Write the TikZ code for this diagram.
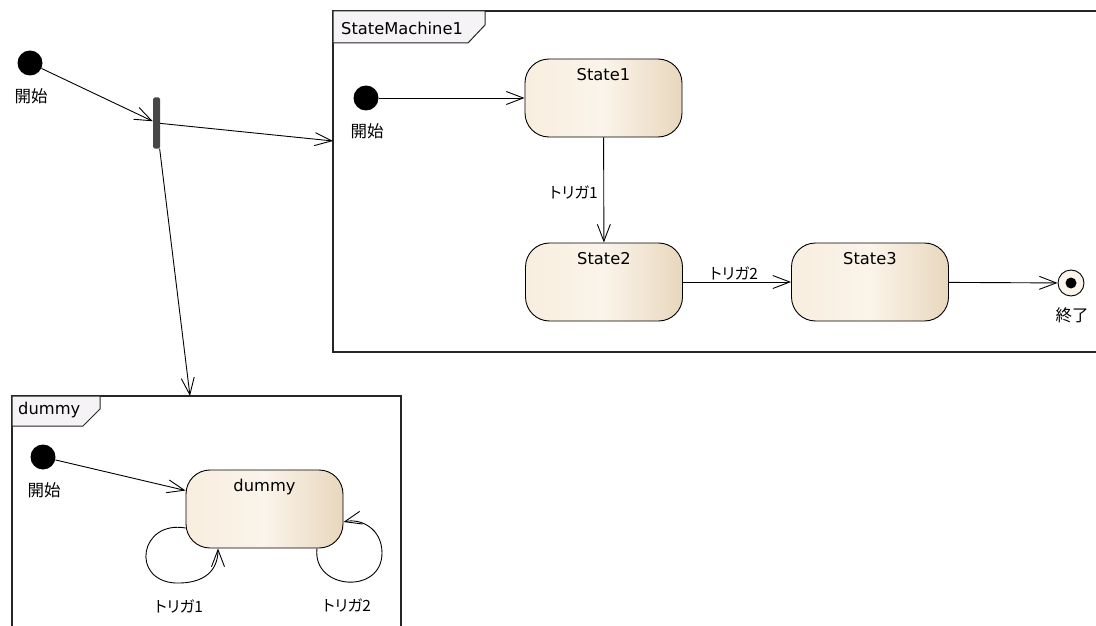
\documentclass[tikz,border=0pt]{standalone}
\usepackage{fontspec}
\setmainfont{DejaVu Sans}
\newfontfamily\jp[RawFeature=+palt]{Noto Sans CJK JP}
\usepackage{tikz}
\usetikzlibrary{arrows.meta}

\definecolor{stL}{HTML}{F8EEDF}
\definecolor{stM}{HTML}{FBF4EA}
\definecolor{stR}{HTML}{E8D7BD}
\definecolor{tabbg}{HTML}{F6F3F6}
\definecolor{framec}{HTML}{262626}
\definecolor{barc}{HTML}{474747}

\tikzset{
  state/.style={draw, line width=0.9pt, rounded corners=24pt,
    minimum width=157pt, minimum height=78pt,
    left color=stL, right color=stR, middle color=stM,
    label={[anchor=north, yshift=-6pt, font=\fontsize{16.3}{18}\selectfont]north:#1}},
  init/.style={circle, fill=black, minimum size=25pt, inner sep=0pt},
  fin/.style={circle, draw, line width=0.9pt, fill=stM, minimum size=26pt, inner sep=0pt,
    path picture={\fill[black] (path picture bounding box.center) circle (5.5pt);}},
  forkbar/.style={rectangle, fill=barc, rounded corners=1.5pt,
    minimum width=7pt, minimum height=51pt, inner sep=0pt},
  jptxt/.style={font=\jp\fontsize{16.5}{18}\selectfont, inner sep=0pt},
  trig/.style={font=\jp\fontsize{15.5}{17}\selectfont, inner sep=0pt},
  tabtxt/.style={font=\fontsize{16.3}{18}\selectfont, inner sep=0pt, anchor=west},
  frame/.style={draw=framec, line width=1.3pt},
  tab/.style={draw=framec, fill=tabbg, line width=1pt},
  trans/.style={-{Straight Barb[length=17pt,width=13pt]}, line width=0.9pt}
}

\begin{document}
\begin{tikzpicture}[x=1pt,y=-1pt]
\useasboundingbox (0,0) rectangle (1096,626);

%% frames
\draw[frame] (333,11) rectangle (1110,352);
\draw[tab] (333,11) -- (485,11) -- (485,25) -- (468,43) -- (333,43) -- cycle;
\node[tabtxt] (smTab) at (341,28) {StateMachine1};
\coordinate (smIn) at (333,141);

\draw[frame] (12,640) -- (12,396) -- (401,396) -- (401,640);
\draw[tab] (12,396) -- (100,396) -- (100,409) -- (83,426) -- (12,426) -- cycle;
\node[tabtxt] (dmTab) at (18,410) {dummy};
\coordinate (dmIn) at (190,396);

%% nodes
\node[init] (I0) at (30,63) {};
\node[jptxt] (I0l) at (31,96) {開始};
\node[forkbar] (fork) at (156.5,123) {};

\node[init] (SI) at (366,98) {};
\node[jptxt] (SIl) at (367,131) {開始};
\node[state=State1] (S1) at (603.5,98) {};
\node[state=State2] (S2) at (604,282) {};
\node[state=State3] (S3) at (870,282) {};
\node[fin] (SF) at (1071,283) {};
\node[jptxt] (SFl) at (1072,315) {終了};

\node[init] (DI) at (43,457) {};
\node[jptxt] (DIl) at (44,490) {開始};
\node[state=dummy] (D) at (264.5,509) {};

%%% edges
\draw[trans] (I0) -- (fork);
\draw[trans] (fork) -- (smIn);
\draw[trans] (fork) -- (dmIn);

\draw[trans] (SI) -- (S1);
\draw[trans] (S1) -- (S2);
\node[trig, anchor=east] (t1) at (598,192) {トリガ1};
\draw[trans] (S2) -- (S3);
\node[trig] (t2) at (734,273) {トリガ2};
\draw[trans] (S3) -- (SF);

\draw[trans] (DI) -- (D);
\draw[trans] ([yshift=-19pt]D.west) .. controls (140,520) and (130,580) .. (175,583)
  .. controls (205,584) and (218,570) .. ([xshift=-46.5pt]D.south);
\node[trig] (dt1) at (179,606) {トリガ1};
\draw[trans] ([xshift=52.5pt]D.south) .. controls (312,590) and (382,595) .. (382,553)
  .. controls (382,528) and (360,518) .. ([yshift=-13pt]D.east);
\node[trig] (dt2) at (347,605) {トリガ2};
\end{tikzpicture}
\end{document}
